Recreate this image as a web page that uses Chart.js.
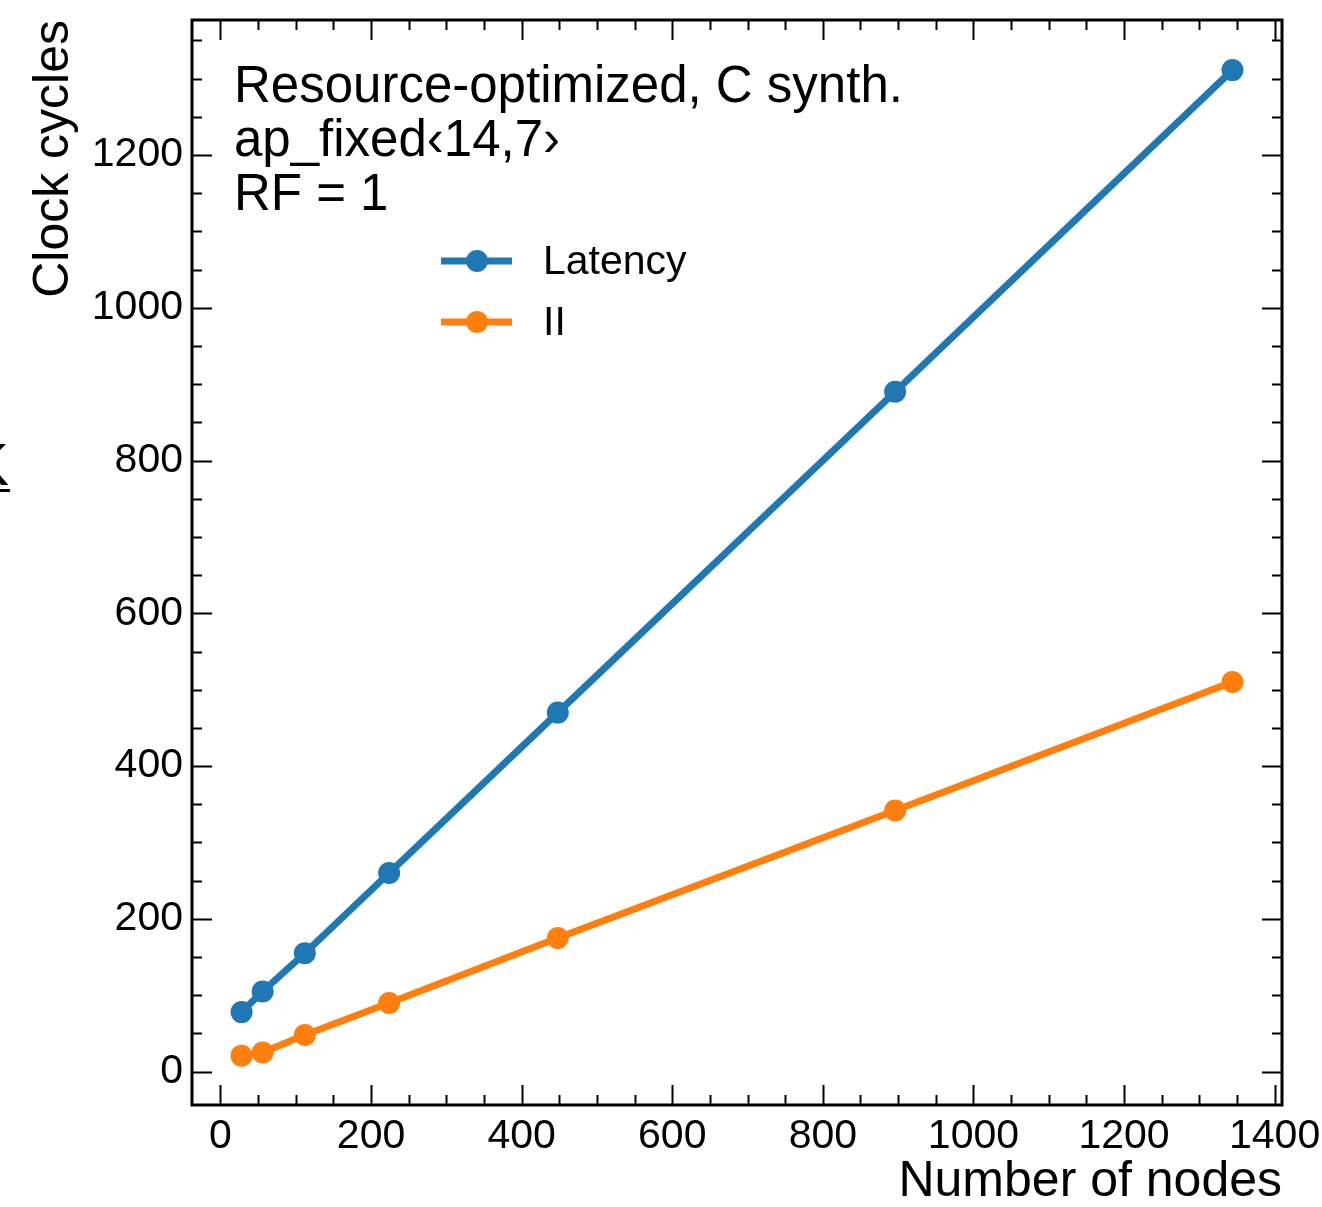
<!DOCTYPE html>
<html>
<head>
<meta charset="utf-8">
<script src="https://cdn.jsdelivr.net/npm/chart.js@4.4.1/dist/chart.umd.min.js"></script>
<style>
  html, body { margin: 0; padding: 0; background: #fff; }
  canvas { display: block; }
</style>
</head>
<body>
<canvas id="chart" width="1322" height="1207"></canvas>
<script>
// values
const nodes = [28, 56, 112, 224, 448, 896, 1344];
const latency = [78, 105, 155, 260, 470, 890, 1311];
const initInterval = [21, 25, 48, 90, 175, 342, 510];

const xTickValues = [0, 200, 400, 600, 800, 1000, 1200, 1400];
const yTickValues = [0, 200, 400, 600, 800, 1000, 1200];

const infoLines = ['Resource-optimized, C synth.', 'ap_fixed\u203914,7\u203A', 'RF = 1'];

const BLUE = '#1f77b4';
const ORANGE = '#ff7f0e';
const FONT = '"Liberation Sans", Arial, Helvetica, sans-serif';

// inward major/minor ticks on all four sides plus the frame
const frameTicks = {
    id: 'frameTicks',
    afterDatasetsDraw(chart) {
        const { ctx, chartArea: a, scales: { x, y } } = chart;
        const steps = (scale, step) => {
            const out = [];
            for (let v = Math.ceil(scale.min / step) * step; v <= scale.max; v += step) out.push(v);
            return out;
        };
        ctx.save();
        ctx.strokeStyle = '#000';
        ctx.lineWidth = 2;
        ctx.beginPath();
        steps(x, 50).forEach(v => {
            const len = v % 200 === 0 ? 20 : 10;
            const px = Math.round(x.getPixelForValue(v)) + 0.5;
            ctx.moveTo(px, a.bottom); ctx.lineTo(px, a.bottom - len);
            ctx.moveTo(px, a.top); ctx.lineTo(px, a.top + len);
        });
        steps(y, 50).forEach(v => {
            const len = v % 200 === 0 ? 20 : 10;
            const py = Math.round(y.getPixelForValue(v)) + 0.5;
            ctx.moveTo(a.left, py); ctx.lineTo(a.left + len, py);
            ctx.moveTo(a.right, py); ctx.lineTo(a.right - len, py);
        });
        ctx.stroke();
        ctx.lineWidth = 3;
        ctx.strokeRect(a.left, a.top, a.right - a.left, a.bottom - a.top);
        ctx.restore();
    }
};

// text block + legend inside the axes
const annotations = {
    id: 'annotations',
    afterDraw(chart) {
        const { ctx } = chart;
        ctx.save();
        ctx.fillStyle = '#000';
        ctx.font = '51px ' + FONT;
        ctx.textBaseline = 'alphabetic';
        ctx.textAlign = 'left';
        infoLines.forEach((t, i) => ctx.fillText(t, 234, 102 + i * 54));

        chart.data.datasets.forEach((ds, i) => {
            const yy = 261 + i * 61;
            ctx.strokeStyle = ds.borderColor;
            ctx.lineWidth = 7;
            ctx.beginPath();
            ctx.moveTo(441, yy);
            ctx.lineTo(512, yy);
            ctx.stroke();
            ctx.fillStyle = ds.borderColor;
            ctx.beginPath();
            ctx.arc(477, yy, 11, 0, Math.PI * 2);
            ctx.fill();
            ctx.fillStyle = '#000';
            ctx.font = '41px ' + FONT;
            ctx.textBaseline = 'middle';
            ctx.fillText(ds.label, 543, yy + 2);
        });

        // clipped glyph at the left edge of the picture
        ctx.font = '60px ' + FONT;
        ctx.textBaseline = 'alphabetic';
        ctx.fillText('K', -31, 485);
        ctx.fillRect(0, 489, 10, 3);
        ctx.restore();
    }
};

const toPoints = ys => nodes.map((n, i) => ({ x: n, y: ys[i] }));
const plainLabel = v => String(v);
// keep the plot box fixed: no extra padding for overhanging tick labels
const noPad = s => { s.paddingTop = 0; s.paddingBottom = 0; s.paddingLeft = 0; s.paddingRight = 0; };

new Chart(document.getElementById('chart'), {
    type: 'line',
    data: {
        datasets: [{
            label: 'Latency',
            data: toPoints(latency),
            borderColor: BLUE,
            backgroundColor: BLUE,
            borderWidth: 7,
            pointRadius: 11,
            pointBorderWidth: 0,
        }, {
            label: 'II',
            data: toPoints(initInterval),
            borderColor: ORANGE,
            backgroundColor: ORANGE,
            borderWidth: 7,
            pointRadius: 11,
            pointBorderWidth: 0,
        }]
    },
    options: {
        responsive: false,
        animation: false,
        layout: { autoPadding: false, padding: { top: 20, right: 40, left: 0, bottom: 0 } },
        plugins: { legend: { display: false }, tooltip: { enabled: false } },
        scales: {
            x: {
                type: 'linear',
                min: -37.8,
                max: 1409.8,
                grid: { display: false, drawTicks: false },
                border: { display: false },
                afterBuildTicks: s => { s.ticks = xTickValues.map(v => ({ value: v })); },
                afterFit: s => { s.height = 102; noPad(s); },
                ticks: { color: '#000', font: { family: FONT, size: 41 }, padding: 7, maxRotation: 0, callback: plainLabel },
                title: {
                    display: true,
                    text: 'Number of nodes',
                    align: 'end',
                    color: '#000',
                    font: { family: FONT, size: 50, lineHeight: 1 },
                    padding: 0,
                }
            },
            y: {
                type: 'linear',
                min: -43.6,
                max: 1376.6,
                grid: { display: false, drawTicks: false },
                border: { display: false },
                afterBuildTicks: s => { s.ticks = yTickValues.map(v => ({ value: v })); },
                afterFit: s => { s.width = 192; noPad(s); },
                ticks: { color: '#000', font: { family: FONT, size: 41 }, padding: 9, callback: plainLabel },
                title: {
                    display: true,
                    text: 'Clock cycles',
                    align: 'end',
                    color: '#000',
                    font: { family: FONT, size: 50, lineHeight: 1 },
                    padding: 29,
                }
            }
        }
    },
    plugins: [frameTicks, annotations]
});
</script>
</body>
</html>
